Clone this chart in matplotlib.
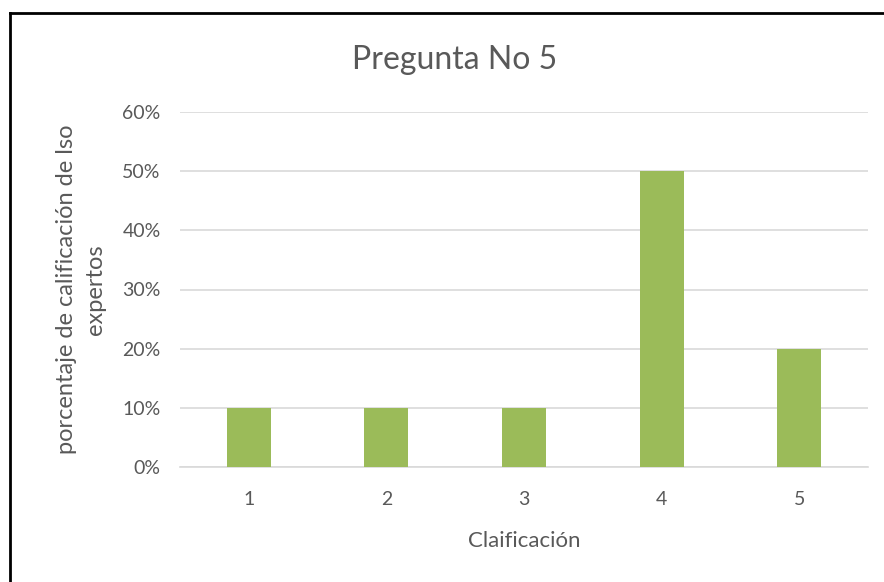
import matplotlib.pyplot as plt
from matplotlib.lines import Line2D
from matplotlib.ticker import PercentFormatter

categories = ['1', '2', '3', '4', '5']
values = [0.10, 0.10, 0.10, 0.50, 0.20]
yticks = [0, 0.1, 0.2, 0.3, 0.4, 0.5, 0.6]

plt.rcParams['font.family'] = ['Lato', 'DejaVu Sans']
txt = '#595959'

fig = plt.figure(figsize=(8.84, 5.82), dpi=100)
ax = fig.add_axes([180/884, 1-467/582, 688/884, 355/582])

x = range(len(categories))
ax.bar(x, values, width=0.32, color='#9BBB59', zorder=3)

ax.set_xlim(-0.5, len(categories) - 0.5)
ax.set_ylim(0, 0.6)
ax.set_yticks(yticks)
ax.yaxis.set_major_formatter(PercentFormatter(1.0, decimals=0))
ax.set_xticks(list(x))
ax.set_xticklabels(categories)
ax.grid(axis='y', color='#D9D9D9', linewidth=1.2, zorder=0)

for s in ['top', 'right', 'left']:
    ax.spines[s].set_visible(False)
ax.spines['bottom'].set_color('#D9D9D9')
ax.spines['bottom'].set_linewidth(1.2)
ax.tick_params(length=0, labelsize=14, colors=txt)
ax.tick_params(axis='x', pad=17)
ax.tick_params(axis='y', pad=14)

fig.text(455/884, 1-60/582, 'Pregunta No 5', fontsize=23, color=txt, ha='center', va='center')
ax.set_xlabel('Claificación', fontsize=16, color=txt, labelpad=17)
ax.set_ylabel('porcentaje de calificación de lso\nexpertos', fontsize=17, color=txt,
              labelpad=12, linespacing=1.45)

# outer frame (top and left visible)
fig.add_artist(Line2D([10/884, 10/884], [0, 1-13/582], transform=fig.transFigure, color='black', lw=2))
fig.add_artist(Line2D([10/884, 1], [1-13/582, 1-13/582], transform=fig.transFigure, color='black', lw=2))

fig.savefig('out.png', dpi=100)
